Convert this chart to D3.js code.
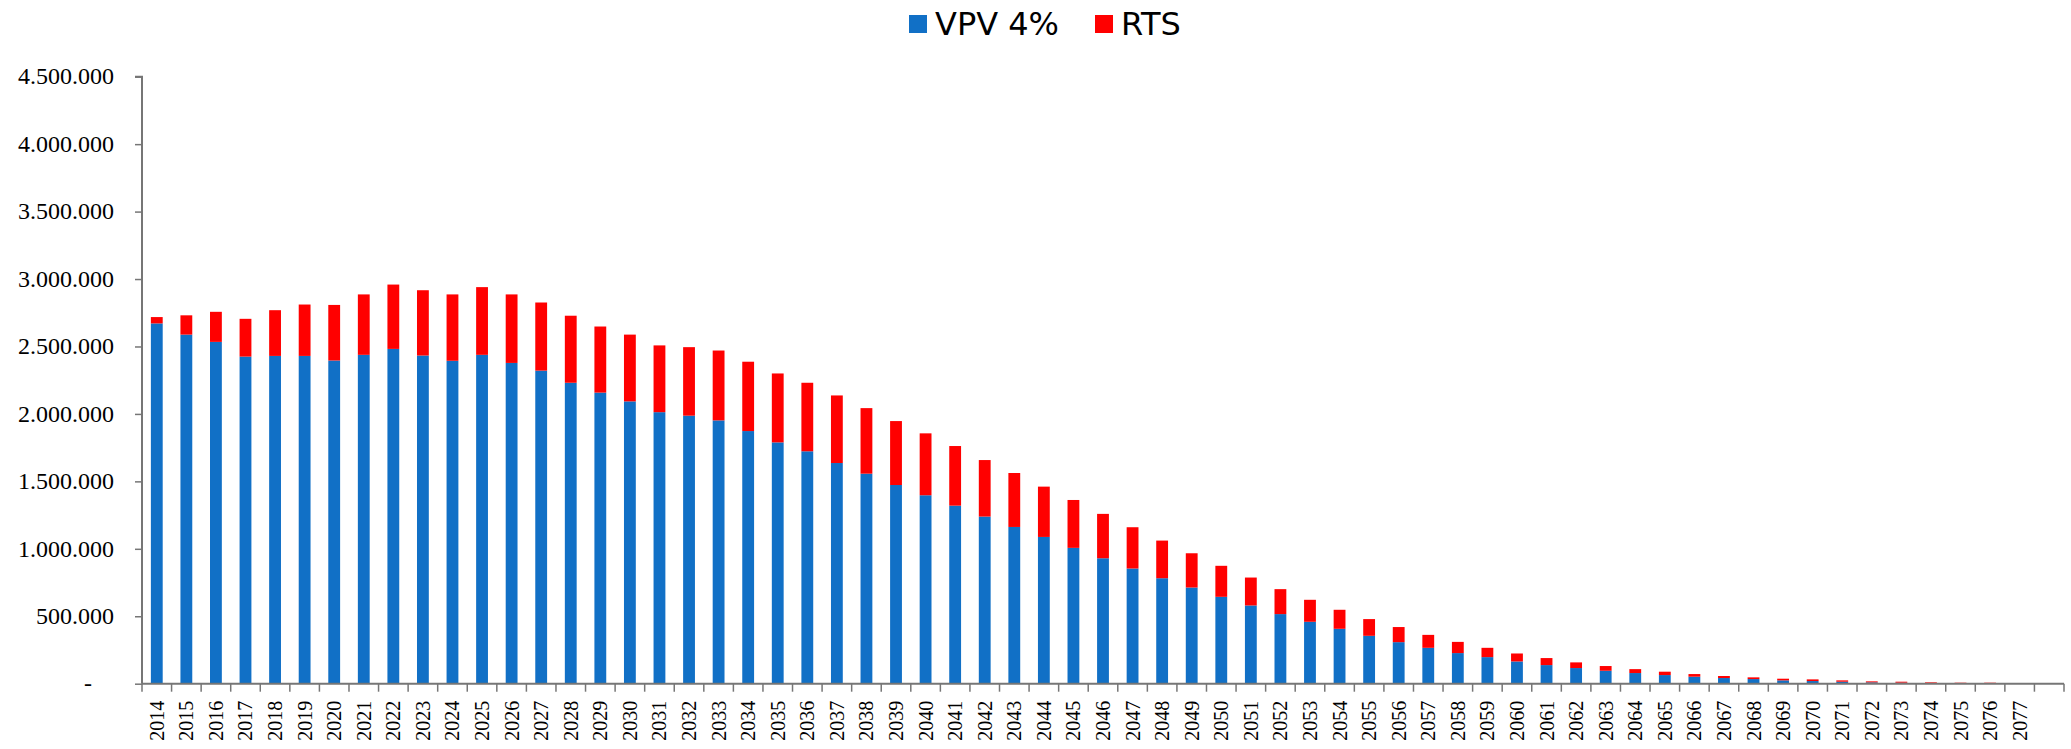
<!DOCTYPE html>
<html>
<head>
<meta charset="utf-8">
<script src="https://cdn.jsdelivr.net/npm/d3@7"></script>
<style>
  body { margin: 0; background: #fff; }
  .axis path, .axis line { stroke: #767676; }
  .ylab text, .xlab text { font-family: "Liberation Serif", serif; fill: #000; }
  .legend text { font-family: "DejaVu Sans", sans-serif; font-size: 32px; fill: #000; }
</style>
</head>
<body>
<svg id="chart" width="2071" height="749"></svg>
<script>
var years = ["2014","2015","2016","2017","2018","2019","2020","2021","2022","2023",
  "2024","2025","2026","2027","2028","2029","2030","2031","2032","2033",
  "2034","2035","2036","2037","2038","2039","2040","2041","2042","2043",
  "2044","2045","2046","2047","2048","2049","2050","2051","2052","2053",
  "2054","2055","2056","2057","2058","2059","2060","2061","2062","2063",
  "2064","2065","2066","2067","2068","2069","2070","2071","2072","2073",
  "2074","2075","2076","2077",""];

var vpv = [2671000,2588000,2534000,2425000,2430000,2430000,2396000,2438000,2482000,2433000,
  2394000,2438000,2378000,2321000,2231000,2158000,2093000,2013000,1987000,1952000,
  1873000,1789000,1723000,1636000,1557000,1473000,1397000,1320000,1239000,1162000,
  1088000,1007000,930000,854000,782000,713000,644000,580000,516000,459000,
  407000,355000,308000,266000,227000,197000,165000,138000,116000,96000,
  79000,64000,52000,42000,34500,24600,19700,14800,9900,7400,
  4900,2500,2000,1000,500];

var rts = [47000,143000,223000,280000,339000,381000,412000,448000,477000,484000,
  492000,502000,508000,505000,497000,490000,495000,495000,508000,518000,
  514000,511000,508000,501000,486000,474000,459000,442000,419000,400000,
  373000,355000,329000,306000,279000,254000,230000,207000,185000,163000,
  141000,124000,112000,96000,83000,69000,59000,52000,42000,35000,
  29000,25000,19500,15000,12500,12400,12300,9800,7400,7400,
  5000,4900,5400,4000,4500];

var yTicks = [0,500000,1000000,1500000,2000000,2500000,3000000,3500000,4000000,4500000];
var seriesNames = ["VPV 4%", "RTS"];
var colors = { "VPV 4%": "#1170c6", "RTS": "#ff0000" };

var svg = d3.select("#chart");
var chart = { left: 142, right: 2064, top: 76.7, bottom: 683.7 };

var rows = years.map(function(y, i) {
  return { year: y, "VPV 4%": vpv[i], "RTS": rts[i] };
});

var x = d3.scaleBand()
  .domain(d3.range(years.length))
  .range([chart.left, chart.right])
  .paddingInner(0.6)
  .paddingOuter(0.3);

var y = d3.scaleLinear().domain([0, 4500000]).range([chart.bottom, chart.top]);

var fmt = function(d) {
  if (d === 0) return "-";
  return d3.format(",")(d).replace(/,/g, ".");
};

// bars
var stack = d3.stack().keys(seriesNames)(rows);
svg.append("g").selectAll("g")
  .data(stack).enter().append("g")
  .attr("fill", function(s) { return colors[s.key]; })
  .selectAll("rect")
  .data(function(s) { return s; })
  .enter().append("rect")
    .attr("x", function(d, i) { return x(i); })
    .attr("y", function(d) { return y(d[1]); })
    .attr("width", x.bandwidth())
    .attr("height", function(d) { return y(d[0]) - y(d[1]); });

// y axis
var yAxis = svg.append("g")
  .attr("class", "axis ylab")
  .attr("transform", "translate(" + chart.left + ",0)")
  .call(d3.axisLeft(y).tickValues(yTicks).tickFormat(fmt).tickSize(7).tickPadding(21));
yAxis.select(".domain").attr("stroke-width", 2).attr("d", "M-7," + y(4500000) + "H0V" + chart.bottom);
yAxis.selectAll("line").attr("stroke-width", 1.5);
yAxis.selectAll("text").attr("font-size", 24).attr("dy", "0.3em");
yAxis.selectAll("text").filter(function(d) { return d === 0; }).attr("dx", -22);

// x axis (tick marks between categories, Excel style)
var xAxis = svg.append("g")
  .attr("class", "axis xlab")
  .attr("transform", "translate(0," + chart.bottom + ")")
  .call(d3.axisBottom(x).tickSize(0).tickFormat(function(i) { return years[i]; }));
xAxis.select(".domain").attr("stroke-width", 2).attr("d", "M" + chart.left + ",0H" + chart.right);
xAxis.selectAll("text")
  .attr("font-size", 20)
  .attr("transform", "rotate(-90)")
  .attr("text-anchor", "end")
  .attr("x", -17)
  .attr("y", 0)
  .attr("dy", "0.35em");

var bounds = d3.range(years.length + 1).map(function(i) {
  return chart.left + i * x.step();
});
xAxis.selectAll(".bound").data(bounds).enter().append("line")
  .attr("class", "bound")
  .attr("x1", function(d) { return d; }).attr("x2", function(d) { return d; })
  .attr("y1", 0).attr("y2", 8)
  .attr("stroke", "#767676").attr("stroke-width", 1.5);

// legend
var legendX = [909, 1095];
var legend = svg.append("g").attr("class", "legend");
seriesNames.forEach(function(name, i) {
  legend.append("rect")
    .attr("x", legendX[i]).attr("y", 15)
    .attr("width", 18).attr("height", 18)
    .attr("fill", colors[name]);
  legend.append("text")
    .attr("x", legendX[i] + 26).attr("y", 35)
    .text(name);
});
</script>
</body>
</html>
